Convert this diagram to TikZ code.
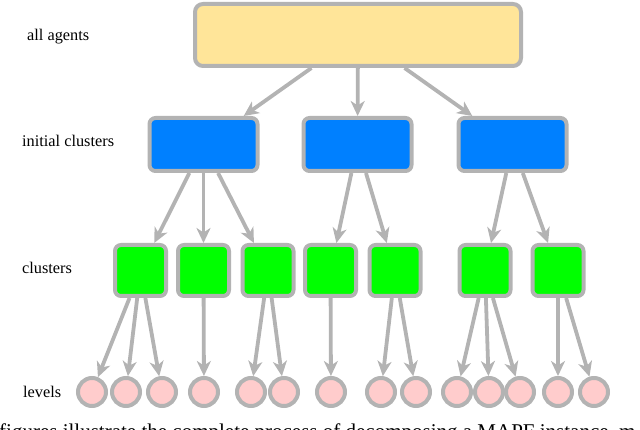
\documentclass[tikz,border=0pt]{standalone}
\usepackage{fontspec}
\setmainfont{Liberation Serif}
\usetikzlibrary{arrows.meta}
\definecolor{grey}{RGB}{179, 179, 179}
\definecolor{paleyellow}{RGB}{255, 229, 153}
\definecolor{blue}{RGB}{0, 128, 255}
\definecolor{green}{RGB}{0, 255, 0}
\definecolor{palepink}{RGB}{255, 204, 204}

\tikzset{
    box/.style={draw=grey, line width=4pt, rounded corners=6pt, inner sep=0pt},
    level/.style={circle, draw=grey, line width=4pt, fill=palepink,
                  minimum size=28pt, inner sep=0pt},
    link/.style={draw=grey, line width=3.8pt,
                 -{Stealth[length=15pt, width=14pt, inset=4.5pt]}},
    rowname/.style={anchor=west, inner sep=0pt, font=\fontsize{16.3}{19}\selectfont}
}

\begin{document}
\begin{tikzpicture}[x=1pt, y=-1pt]

        % keep the frame of the reference (y runs downwards here)
        \useasboundingbox (0,0) rectangle (640,430);

        % the top box, holding all the agents
        \node[box, fill=paleyellow, rounded corners=8pt,
              minimum width=326pt, minimum height=62pt] (agents) at (358,35) {};

        % the initial clusters, each one coming from the top box
        \foreach \x [count=\i] in {203.5, 357.5, 512.5} {
            \node[box, fill=blue, minimum width=108pt, minimum height=53pt] (init\i) at (\x,144.5) {};
            \draw[link] (agents) -- (init\i);
        }

        % the clusters, zipped with the initial cluster they are split from
        \foreach \x / \parent [count=\i] in {
                        140.5/1, 203.5/1, 268/1, 330.5/2, 395/2, 485/3, 558/3} {
            \node[box, fill=green, minimum size=51pt] (clus\i) at (\x,270.5) {};
            \draw[link] (init\parent) -- (clus\i);
        }

        % the levels, zipped with the cluster they belong to
        \foreach \x / \parent [count=\i] in {
                        92/1, 126/1, 162/1, 204/2, 251/3, 284/3, 331/4,
                        381/5, 416/5, 457/6, 489/6, 520/6, 558/7, 594/7} {
            \node[level] (lev\i) at (\x,392) {};
            \draw[link] (clus\parent) -- (lev\i);
        }

        % names of the rows
        \node[rowname] (nameagents) at (27,37) {all agents};
        \node[rowname] (nameinit) at (22,141) {initial clusters};
        \node[rowname] (nameclus) at (22,268) {clusters};
        \node[rowname] (namelev) at (23,392) {levels};

        % the caption line, cut by the lower edge
        \node[anchor=base west, inner sep=0pt, font=\fontsize{21}{25}\selectfont] (caption)
            at (-1,438.5) {figures illustrate the complete process of decomposing a MAPF instance, m};
    \end{tikzpicture}
\end{document}
